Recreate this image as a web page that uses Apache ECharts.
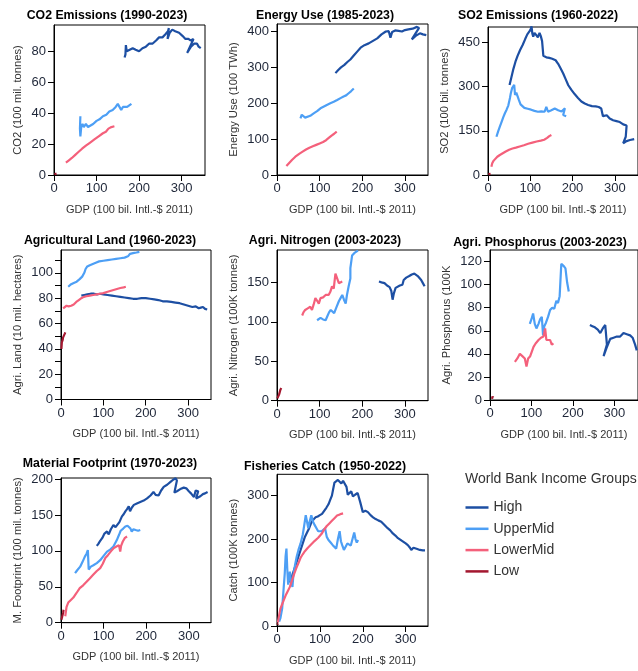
<!DOCTYPE html>
<html>
<head>
<meta charset="utf-8">
<script src="https://cdn.jsdelivr.net/npm/echarts@6/dist/echarts.min.js"></script>
<style>
  html, body { margin: 0; padding: 0; background: #fff; }
  #chart { width: 638px; height: 671px; }
</style>
</head>
<body>
<div id="chart"></div>
<script>
// Income groups and their colours
const groups = ['High', 'UpperMid', 'LowerMid', 'Low'];
const groupColors = ['#1d4fa3', '#4d9ff5', '#f4607b', '#a3172f'];

// Shared GDP ticks (100 bil. Intl.-$ 2011)
const gdpTicks = [0, 100, 200, 300];

// ---- CO2 Emissions (1990-2023): [GDP, CO2] ----
const co2High = [[166,76],[168,78],[169,84],[171,80],[178,81],[185,82],[192,81],[200,80],[208,82],[216,83],[224,85],[232,85],[240,87],[247,89],[255,89],[262,91],[268,93],[270,95],[267,88],[272,92],[278,94],[285,93],[294,92],[302,90],[309,88],[316,88],[321,87],[328,88],[313,79],[322,83],[330,85],[336,85],[340,83],[345,82]];
const co2Upper = [[62,38],[61,30],[62,25],[64,31],[67,33],[70,31],[75,33],[80,31],[86,32],[92,33],[100,35],[107,36],[115,38],[123,39],[130,41],[138,42],[145,44],[150,46],[154,45],[158,42],[162,44],[166,44],[172,44],[177,45],[182,46]];
const co2Lower = [[28,8],[35,9.5],[42,11],[50,13],[58,15],[66,17],[75,19],[85,21],[95,23],[105,25],[115,27],[122,28],[128,30],[135,31],[142,31.5]];
const co2Low = [[1,0.5],[3,0.7],[6,0.9]];
const co2Ticks = [0, 20, 40, 60, 80];

// ---- Energy Use (1985-2023): [GDP, 100 TWh] ----
const energyHigh = [[137,284],[143,292],[150,300],[158,307],[165,315],[172,322],[180,333],[188,344],[196,355],[205,362],[215,367],[225,374],[235,381],[245,392],[255,400],[262,401],[266,383],[270,399],[277,403],[285,402],[293,400],[300,404],[308,406],[318,408],[328,413],[333,410],[316,378],[325,388],[335,395],[342,392],[350,390]];
const energyUpper = [[55,158],[58,168],[59,172],[61,163],[66,160],[70,161],[78,165],[86,172],[94,178],[102,186],[110,191],[118,196],[125,200],[133,204],[141,209],[150,215],[156,219],[162,222],[168,228],[174,234],[180,241]];
const energyLower = [[22,25],[28,33],[35,42],[43,51],[52,59],[60,65],[68,71],[76,76],[84,80],[92,84],[100,88],[108,92],[115,97],[122,104],[128,110],[134,115],[140,121]];
const energyLow = [[1,1],[2,1.5]];
const energyTicks = [0, 100, 200, 300, 400];

// ---- SO2 Emissions (1960-2022): [GDP, 100 bil. tonnes] ----
const so2High = [[51,306],[55,330],[60,360],[65,385],[70,405],[76,425],[82,442],[88,462],[93,478],[98,488],[101,495],[103,505],[105,480],[107,470],[110,483],[114,476],[118,468],[122,483],[125,472],[128,455],[131,405],[138,400],[145,398],[152,395],[160,390],[166,378],[172,362],[178,345],[184,325],[190,305],[197,290],[205,275],[213,262],[221,250],[229,243],[237,238],[246,234],[255,233],[262,231],[268,226],[272,200],[276,205],[281,203],[288,192],[296,186],[304,183],[312,180],[320,172],[328,168],[331,162],[326,130],[320,108],[328,115],[336,119],[346,122]];
const so2Upper = [[20,130],[24,148],[28,164],[32,180],[36,196],[40,210],[44,222],[48,236],[52,262],[54,278],[57,295],[60,300],[62,306],[64,272],[67,280],[70,276],[73,255],[77,240],[80,234],[86,228],[94,225],[102,222],[110,218],[118,215],[126,216],[134,215],[138,232],[142,215],[150,220],[158,226],[166,220],[174,216],[182,227],[178,204],[185,200]];
const so2Lower = [[8,28],[10,40],[13,48],[17,54],[22,62],[28,68],[35,74],[42,80],[50,86],[58,90],[66,93],[75,97],[85,101],[95,106],[105,110],[115,114],[125,117],[133,120],[140,126],[145,132],[150,136]];
const so2Low = [[1,3],[4,6],[6,4]];
const so2Ticks = [0, 150, 300, 450];

// ---- Agricultural Land (1960-2023): [GDP, 10 mil. hectares] ----
const landHigh = [[48,82],[55,82.5],[62,83],[70,83.5],[78,83.5],[85,83],[92,83.5],[100,83],[110,82.5],[120,82],[130,81.5],[140,81],[150,80.5],[160,80],[170,79.5],[180,79.5],[190,80],[200,80],[210,79.5],[220,79],[230,78.5],[240,77.5],[250,77.5],[260,77],[270,76.5],[280,76],[290,75],[300,74],[310,73],[318,73.5],[325,72],[330,72.5],[335,73],[340,71.5],[345,71]];
const landUpper = [[17,89],[24,91],[30,92],[37,93],[44,95],[50,97],[55,100],[58,103],[62,105],[68,106],[75,107],[82,108],[90,109],[100,109.5],[110,110],[120,110.5],[130,111],[140,111.5],[150,112],[158,113],[163,115],[170,115.5],[178,116],[185,116.5]];
const landLower = [[5,72],[9,73],[13,74],[18,73.5],[24,74],[30,75],[36,77],[42,78.5],[48,80],[54,81],[60,81.5],[68,82],[76,82.5],[84,83],[92,83.5],[100,84],[110,85],[120,86],[130,87],[140,88],[148,88.5],[153,89]];
const landLow = [[1,40],[2,45],[4,47],[5,49],[7,50],[9,52],[10,53]];
const landLabels = [0, 20, 40, 60, 80, 100];
const landTicks = [0, 10, 20, 30, 40, 50, 60, 70, 80, 90, 100, 110];

// ---- Agri. Nitrogen (2003-2023): [GDP, 100K tonnes] ----
const nitroHigh = [[239,151],[245,150],[252,149],[258,146],[264,144],[268,139],[271,128],[274,136],[278,143],[282,145],[288,146],[294,147],[297,153],[303,156],[310,158],[316,160],[322,161],[326,159],[330,158],[334,156],[338,153],[342,149],[346,145]];
const nitroUpper = [[94,102],[98,104],[102,105],[108,103],[114,102],[118,107],[122,112],[126,115],[130,113],[134,111],[139,118],[145,126],[149,130],[153,134],[157,128],[161,123],[164,134],[168,145],[172,155],[176,155],[172,168],[176,184],[181,187],[186,189],[190,190]];
const nitroLower = [[59,108],[62,112],[66,115],[72,117],[78,119],[82,115],[86,122],[90,130],[95,126],[98,123],[102,130],[108,131],[114,134],[121,134],[125,138],[129,145],[133,142],[137,161],[141,161],[145,149],[149,151],[153,151]];
const nitroLow = [[1,3],[3,5],[5,8],[7,10],[8,14],[10,16]];
const nitroTicks = [0, 50, 100, 150];

// ---- Agri. Phosphorus (2003-2023): [GDP, 100K tonnes] ----
const phosHigh = [[241,65],[247,64],[253,63],[260,61],[266,58],[272,62],[278,65],[282,48],[274,38],[281,45],[290,53],[298,54],[306,55],[314,55],[318,56],[322,58],[330,57],[338,56],[344,54],[350,48],[354,43]];
const phosUpper = [[96,66],[100,70],[104,75],[108,66],[112,62],[117,66],[121,70],[125,72],[128,56],[131,64],[135,67],[140,72],[145,78],[150,80],[155,79],[160,86],[164,84],[168,90],[172,118],[178,116],[182,114],[186,102],[190,94]];
const phosLower = [[60,33],[66,36],[72,40],[78,38],[84,36],[88,29],[92,36],[97,38],[101,39],[105,46],[110,49],[117,52],[123,54],[129,55],[133,62],[136,52],[140,53],[145,52],[149,48],[153,49]];
const phosLow = [[5,1],[6,3],[7,4],[8,2]];
const phosTicks = [0, 20, 40, 60, 80, 100, 120];

// ---- Material Footprint (1970-2023): [GDP, 100 mil. tonnes] ----
const matHigh = [[84,107],[88,110],[92,114],[97,118],[102,124],[108,127],[112,123],[117,130],[123,136],[128,133],[132,132],[137,140],[143,148],[147,151],[151,155],[155,158],[159,162],[162,155],[166,160],[171,164],[178,166],[186,168],[194,170],[202,173],[210,177],[217,182],[222,178],[229,177],[235,184],[241,189],[249,192],[257,196],[263,199],[269,201],[272,198],[266,181],[272,183],[280,186],[288,188],[294,187],[300,183],[305,180],[312,175],[316,184],[322,183],[317,173],[327,176],[333,179],[338,180],[344,182]];
const matUpper = [[33,69],[38,73],[45,78],[50,84],[56,92],[60,96],[63,101],[65,74],[70,78],[76,80],[84,83],[92,87],[100,93],[108,99],[116,102],[123,106],[131,115],[136,122],[140,128],[146,131],[151,134],[156,135],[159,136],[163,131],[166,127],[170,130],[175,129],[181,128],[186,129]];
const matLower = [[10,9],[13,22],[17,28],[22,31],[29,35],[36,41],[44,48],[52,52],[60,57],[68,62],[76,67],[84,72],[92,76],[98,82],[104,90],[110,94],[118,100],[124,104],[130,106],[136,108],[139,99],[141,107],[145,113],[150,118],[155,120]];
const matLow = [[1,4],[3,9],[5,14],[6,18]];
const matTicks = [0, 50, 100, 150, 200];

// ---- Fisheries Catch (1950-2022): [GDP, 100K tonnes] ----
const fishHigh = [[30,100],[35,115],[40,130],[45,145],[50,160],[55,175],[60,190],[65,205],[70,215],[75,225],[80,238],[85,245],[90,250],[95,252],[100,255],[105,258],[110,265],[115,272],[120,280],[124,290],[128,300],[131,315],[134,330],[138,334],[142,336],[146,332],[150,328],[154,334],[158,336],[162,320],[165,302],[169,306],[173,310],[177,298],[182,302],[188,306],[194,285],[200,262],[206,265],[212,262],[218,255],[224,250],[230,246],[236,243],[243,240],[250,233],[258,225],[264,220],[270,213],[276,208],[282,202],[288,198],[294,194],[300,190],[305,186],[310,180],[313,175],[318,180],[322,183],[327,177],[333,175],[340,174],[345,174]];
const fishUpper = [[5,10],[8,18],[12,40],[15,80],[18,120],[20,160],[22,178],[24,130],[26,95],[28,110],[30,125],[33,100],[36,90],[38,115],[42,140],[46,160],[50,175],[55,190],[60,210],[64,235],[67,255],[70,240],[73,225],[76,240],[80,255],[84,240],[88,232],[92,225],[96,218],[100,217],[104,218],[108,222],[112,225],[116,205],[120,198],[125,192],[130,186],[134,182],[138,178],[142,200],[146,218],[149,195],[152,186],[156,175],[160,172],[164,190],[168,194],[172,185],[176,188],[180,215],[183,200],[186,192],[189,198]];
const fishLower = [[2,8],[5,25],[8,40],[12,50],[16,60],[20,70],[25,80],[30,90],[35,105],[40,120],[45,133],[50,145],[55,157],[60,165],[65,172],[72,180],[80,188],[88,196],[96,203],[104,212],[110,222],[116,230],[122,236],[128,242],[134,248],[140,254],[145,256],[150,258],[154,259]];
const fishLow = [[1,3],[2,6]];
const fishTicks = [0, 100, 200, 300];

// Panel definitions: text, data and placement
const panels = [
  { title: 'CO2 Emissions (1990-2023)', yName: 'CO2 (100 mil. tonnes)', series: [co2High, co2Upper, co2Lower, co2Low],
    yLabels: co2Ticks, yTicks: co2Ticks, yMax: 97, xMax: 355, yGap: 31,
    box: { left: 54, top: 25, width: 151, height: 150 }, titleX: 107, titleY: 15.7 },
  { title: 'Energy Use (1985-2023)', yName: 'Energy Use (100 TWh)', series: [energyHigh, energyUpper, energyLower, energyLow],
    yLabels: energyTicks, yTicks: energyTicks, yMax: 421, xMax: 354, yGap: 38,
    box: { left: 277, top: 24, width: 151, height: 151 }, titleX: 325, titleY: 15.7 },
  { title: 'SO2 Emissions (1960-2022)', yName: 'SO2 (100 bil. tonnes)', series: [so2High, so2Upper, so2Lower, so2Low],
    yLabels: so2Ticks, yTicks: so2Ticks, yMax: 503, xMax: 355, yGap: 38,
    box: { left: 488, top: 27, width: 150, height: 148 }, titleX: 538, titleY: 15.7 },
  { title: 'Agricultural Land (1960-2023)', yName: 'Agri. Land (10 mil. hectares)', series: [landHigh, landUpper, landLower, landLow],
    yLabels: landLabels, yTicks: landTicks, yMax: 118, xMax: 354, yGap: 38,
    box: { left: 61, top: 250, width: 150, height: 149.5 }, titleX: 110, titleY: 241 },
  { title: 'Agri. Nitrogen (2003-2023)', yName: 'Agri. Nitrogen (100K tonnes)', series: [nitroHigh, nitroUpper, nitroLower, nitroLow],
    yLabels: nitroTicks, yTicks: nitroTicks, yMax: 191, xMax: 354, yGap: 38,
    box: { left: 277, top: 250, width: 151, height: 150.7 }, titleX: 325, titleY: 240.7 },
  { title: 'Agri. Phosphorus (2003-2023)', yName: 'Agri. Phosphorus (100K', series: [phosHigh, phosUpper, phosLower, phosLow],
    yLabels: phosTicks, yTicks: phosTicks, yMax: 130, xMax: 357, yGap: 38,
    box: { left: 490, top: 250, width: 148, height: 150 }, titleX: 540, titleY: 242.3 },
  { title: 'Material Footprint (1970-2023)', yName: 'M. Footprint (100 mil. tonnes)', series: [matHigh, matUpper, matLower, matLow],
    yLabels: matTicks, yTicks: matTicks, yMax: 201.4, xMax: 352, yGap: 38,
    box: { left: 61, top: 478, width: 150, height: 144.7 }, titleX: 110, titleY: 463.3 },
  { title: 'Fisheries Catch (1950-2022)', yName: 'Catch (100K tonnes)', series: [fishHigh, fishUpper, fishLower, fishLow],
    yLabels: fishTicks, yTicks: fishTicks, yMax: 349, xMax: 352, yGap: 38,
    box: { left: 277, top: 474.3, width: 151, height: 151.7 }, titleX: 325, titleY: 466.7 }
];

const sans = '"Liberation Sans", Arial, sans-serif';
const tickColor = '#1e2638';
const titleSize = 12.3;

const option = {
  animation: false,
  backgroundColor: '#fff',
  title: [],
  grid: [],
  xAxis: [],
  yAxis: [],
  series: [],
  legend: {
    data: groups,
    orient: 'vertical',
    left: 465.5,
    top: 499.5,
    padding: 0,
    icon: 'rect',
    itemWidth: 23,
    itemHeight: 2.5,
    itemGap: 5.3,
    textStyle: { fontFamily: sans, fontSize: 14, color: '#333', lineHeight: 16 },
    selectedMode: false
  }
};

panels.forEach((p, i) => {
  option.title.push({
    text: p.title, left: p.titleX, top: p.titleY - 7.5, textAlign: 'center', padding: 0,
    textStyle: { fontFamily: sans, fontWeight: 'bold', fontSize: titleSize, color: '#000', lineHeight: 15 }
  });
  option.grid.push(Object.assign({ show: true, borderColor: '#000', borderWidth: 1, backgroundColor: 'transparent' }, p.box));
  option.xAxis.push({
    type: 'value', gridIndex: i, min: 0, max: p.xMax,
    name: 'GDP (100 bil. Intl.-$ 2011)', nameLocation: 'middle', nameGap: 29,
    nameTextStyle: { fontFamily: sans, fontSize: 11, color: '#333' },
    axisLine: { show: true, lineStyle: { color: '#000', width: 1 } },
    axisTick: { show: true, length: 6, inside: false, customValues: gdpTicks, lineStyle: { color: '#000' } },
    axisLabel: { customValues: gdpTicks, margin: 7, fontFamily: sans, fontSize: 13, color: tickColor },
    splitLine: { show: false }
  });
  option.yAxis.push({
    type: 'value', gridIndex: i, min: 0, max: p.yMax,
    name: p.yName, nameLocation: 'middle', nameRotate: 90, nameGap: p.yGap,
    nameTextStyle: { fontFamily: sans, fontSize: 11.2, color: '#333' },
    axisLine: { show: true, lineStyle: { color: '#000', width: 1 } },
    axisTick: { show: true, length: 6, inside: false, customValues: p.yTicks, lineStyle: { color: '#000' } },
    axisLabel: { customValues: p.yLabels, margin: 8, fontFamily: sans, fontSize: 13, color: tickColor },
    splitLine: { show: false }
  });
  p.series.forEach((data, g) => {
    option.series.push({
      type: 'line', name: groups[g], xAxisIndex: i, yAxisIndex: i,
      data: data, showSymbol: false, symbol: 'none', clip: true,
      lineStyle: { color: groupColors[g], width: 2.2 },
      itemStyle: { color: groupColors[g] },
      z: 2 + g
    });
  });
});

// Legend heading
option.title.push({
  text: 'World Bank Income Groups', left: 465, top: 471, padding: 0,
  textStyle: { fontFamily: sans, fontWeight: 'normal', fontSize: 14, color: '#333', lineHeight: 16 }
});

const chart = echarts.init(document.getElementById('chart'), null, { renderer: 'canvas' });
chart.setOption(option);
</script>
</body>
</html>
